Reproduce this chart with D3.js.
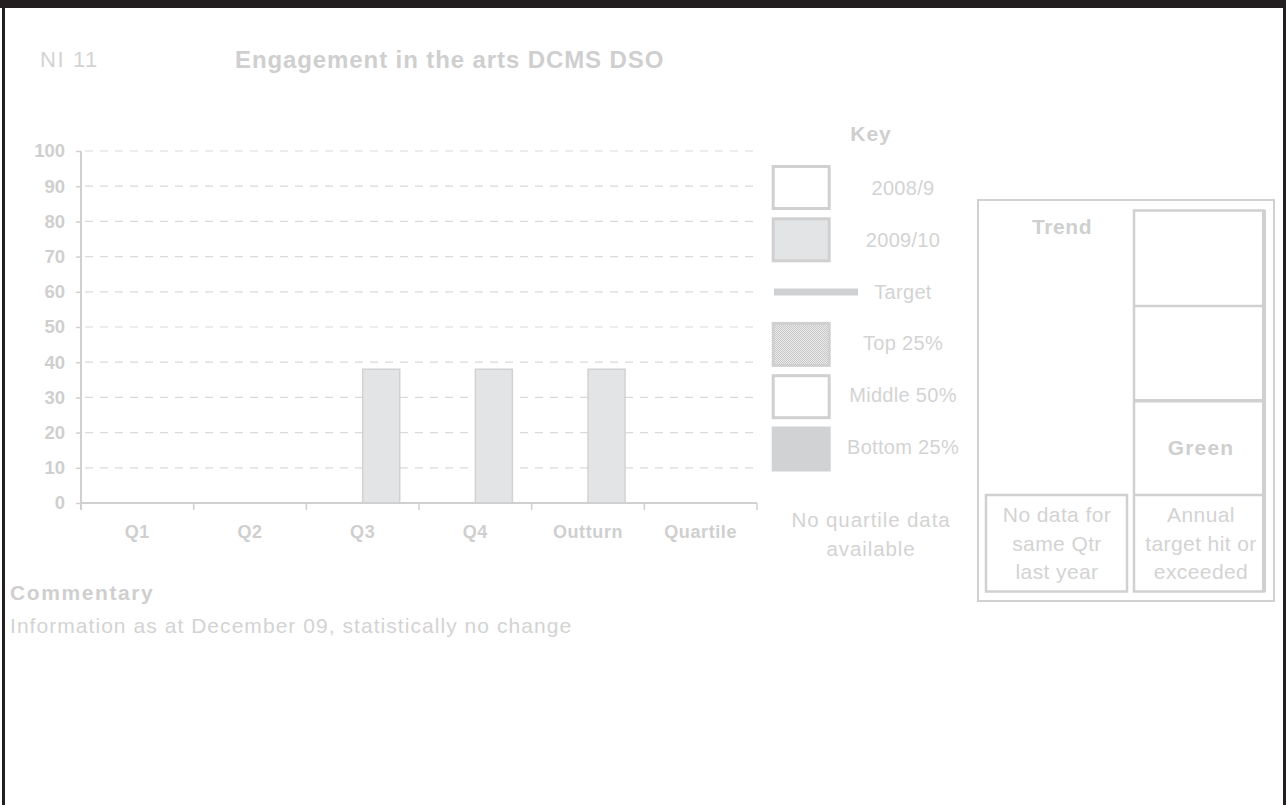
<!DOCTYPE html>
<html>
<head>
<meta charset="utf-8">
<script src="https://cdn.jsdelivr.net/npm/d3@7"></script>
<style>
  body { margin: 0; background: #fff; }
  svg text { font-family: "Liberation Sans", Arial, sans-serif; }
</style>
</head>
<body>
<div id="chart"></div>
<script>
// chart data
var categories = ["Q1", "Q2", "Q3", "Q4", "Outturn", "Quartile"];
var seriesNames = ["2008/9", "2009/10"];
var values0809 = [null, null, null, null, null, null];
var values0910 = [null, null, 38, 38, 38, null];
var yTicks = [0, 10, 20, 30, 40, 50, 60, 70, 80, 90, 100];
var keyLabels = ["2008/9", "2009/10", "Target", "Top 25%", "Middle 50%", "Bottom 25%"];
var keyTypes = ["box0809", "box0910", "line", "top", "mid", "bottom"];

var W = 1286, H = 805;
var txt = "#d3d3d3", txtBold = "#cfcfcf", line = "#d0d0d0";

var svg = d3.select("#chart").append("svg")
    .attr("width", W).attr("height", H);

// dotted pattern for the Top 25% key
var pat = svg.append("defs").append("pattern")
    .attr("id", "dots").attr("width", 2).attr("height", 2)
    .attr("patternUnits", "userSpaceOnUse");
pat.append("rect").attr("width", 2).attr("height", 2).attr("fill", "#ececec");
pat.append("rect").attr("width", 1).attr("height", 1).attr("fill", "#c6c6c6");
pat.append("rect").attr("x", 1).attr("y", 1).attr("width", 1).attr("height", 1).attr("fill", "#c6c6c6");

// black frame
svg.append("rect").attr("x", 0).attr("y", 0).attr("width", W).attr("height", 8).attr("fill", "#231f20");
svg.append("rect").attr("x", 2).attr("y", 0).attr("width", 3).attr("height", H).attr("fill", "#231f20");
svg.append("rect").attr("x", 1283).attr("y", 0).attr("width", 3).attr("height", H).attr("fill", "#231f20");

// headings
svg.append("text").text("NI 11")
    .attr("x", 40).attr("y", 67)
    .attr("font-size", 22).attr("letter-spacing", 1.6).attr("fill", txt);
svg.append("text").text("Engagement in the arts DCMS DSO")
    .attr("x", 235).attr("y", 68)
    .attr("font-size", 24).attr("font-weight", "bold").attr("letter-spacing", 0.9).attr("fill", txtBold);

// scales
var x = d3.scaleBand().domain(categories).range([81, 757]);
var x1 = d3.scaleBand().domain(seriesNames).range([0, x.bandwidth()]).paddingOuter(0.52);
var y = d3.scaleLinear().domain([0, 100]).range([503, 151]);

// grid lines (dashed)
svg.append("g").selectAll("line")
    .data(yTicks.filter(function(d) { return d > 0; }))
    .enter().append("line")
    .attr("x1", 81).attr("x2", 757)
    .attr("y1", function(d) { return y(d); })
    .attr("y2", function(d) { return y(d); })
    .attr("stroke", "#dadada").attr("stroke-width", 1.2)
    .attr("stroke-dasharray", "8,7").attr("stroke-dashoffset", -4);

// y axis
var yAxis = svg.append("g").attr("transform", "translate(81,0)")
    .call(d3.axisLeft(y).tickValues(yTicks).tickSize(5).tickPadding(11));
yAxis.select(".domain").remove();
yAxis.selectAll(".tick line").attr("stroke", line).attr("stroke-width", 1.5);
yAxis.selectAll(".tick text")
    .attr("fill", txtBold).attr("font-size", 18.5).attr("font-weight", "bold")
    .attr("font-family", "Liberation Sans, Arial, sans-serif");
svg.append("line").attr("x1", 81).attr("x2", 81).attr("y1", 151).attr("y2", 510)
    .attr("stroke", line).attr("stroke-width", 2);

// bars
var groups = svg.append("g").selectAll("g")
    .data(categories).enter().append("g")
    .attr("transform", function(d) { return "translate(" + x(d) + ",0)"; });
groups.each(function(c, i) {
    var g = d3.select(this);
    [values0809[i], values0910[i]].forEach(function(v, s) {
        if (v == null) return;
        g.append("rect")
            .attr("x", x1(seriesNames[s]))
            .attr("y", y(v))
            .attr("width", x1.bandwidth())
            .attr("height", y(0) - y(v))
            .attr("fill", s === 0 ? "#ffffff" : "#e3e4e6")
            .attr("stroke", "#d2d2d2").attr("stroke-width", 1.5);
    });
});

// x axis
svg.append("line").attr("x1", 81).attr("x2", 757).attr("y1", 503).attr("y2", 503)
    .attr("stroke", line).attr("stroke-width", 2);
svg.append("g").selectAll("line")
    .data(categories.slice(1).concat(["end"]))
    .enter().append("line")
    .attr("x1", function(d, i) { return x(categories[0]) + (i + 1) * x.step(); })
    .attr("x2", function(d, i) { return x(categories[0]) + (i + 1) * x.step(); })
    .attr("y1", 503).attr("y2", 510)
    .attr("stroke", line).attr("stroke-width", 1.5);
svg.append("g").selectAll("text")
    .data(categories).enter().append("text")
    .text(function(d) { return d; })
    .attr("x", function(d) { return x(d) + x.bandwidth() / 2; })
    .attr("y", 538)
    .attr("text-anchor", "middle")
    .attr("font-size", 18).attr("font-weight", "bold").attr("letter-spacing", 0.6)
    .attr("fill", txtBold);

// key
svg.append("text").text("Key")
    .attr("x", 871).attr("y", 141)
    .attr("text-anchor", "middle")
    .attr("font-size", 21).attr("font-weight", "bold").attr("letter-spacing", 1)
    .attr("fill", txtBold);
var keyY = function(i) { return 187.5 + i * 52.3; };
keyTypes.forEach(function(t, i) {
    var cy = keyY(i);
    if (t === "line") {
        svg.append("line").attr("x1", 774).attr("x2", 858)
            .attr("y1", cy).attr("y2", cy)
            .attr("stroke", "#d0d1d3").attr("stroke-width", 7);
    } else {
        var fill = { box0809: "#ffffff", box0910: "#e3e4e6", top: "url(#dots)", mid: "#ffffff", bottom: "#d1d2d4" }[t];
        svg.append("rect")
            .attr("x", 773.2).attr("y", cy - 21).attr("width", 56).attr("height", 42)
            .attr("fill", fill)
            .attr("stroke", t === "bottom" ? "#d1d2d4" : "#d0d0d0").attr("stroke-width", 3);
    }
});
svg.append("g").selectAll("text")
    .data(keyLabels).enter().append("text")
    .text(function(d) { return d; })
    .attr("x", 903).attr("y", function(d, i) { return 195 + i * 51.8; })
    .attr("text-anchor", "middle")
    .attr("font-size", 20).attr("letter-spacing", 0.3)
    .attr("fill", txt);
svg.append("text").attr("text-anchor", "middle").attr("font-size", 20.5)
    .attr("letter-spacing", 0.9).attr("fill", txt)
    .selectAll("tspan").data(["No quartile data", "available"]).enter().append("tspan")
    .attr("x", 871).attr("y", function(d, i) { return 527 + i * 29; })
    .text(function(d) { return d; });

// trend / status box
svg.append("rect").attr("x", 978).attr("y", 200).attr("width", 296).attr("height", 401)
    .attr("fill", "none").attr("stroke", line).attr("stroke-width", 2);
svg.append("rect").attr("x", 1134).attr("y", 210.5).attr("width", 130).attr("height", 381)
    .attr("fill", "none").attr("stroke", line).attr("stroke-width", 2.5);
svg.append("line").attr("x1", 1264).attr("x2", 1264).attr("y1", 210).attr("y2", 592)
    .attr("stroke", line).attr("stroke-width", 4);
[306, 400.7, 495].forEach(function(yy, i) {
    svg.append("line").attr("x1", 1134).attr("x2", 1264).attr("y1", yy).attr("y2", yy)
        .attr("stroke", line).attr("stroke-width", i === 1 ? 3.5 : 2.5);
});
svg.append("rect").attr("x", 986).attr("y", 495).attr("width", 141).attr("height", 96.5)
    .attr("fill", "none").attr("stroke", line).attr("stroke-width", 2.5);
svg.append("text").text("Trend")
    .attr("x", 1062).attr("y", 234).attr("text-anchor", "middle")
    .attr("font-size", 21).attr("font-weight", "bold").attr("letter-spacing", 0.6)
    .attr("fill", txtBold);
svg.append("text").text("Green")
    .attr("x", 1201).attr("y", 455).attr("text-anchor", "middle")
    .attr("font-size", 21).attr("font-weight", "bold").attr("letter-spacing", 1.2)
    .attr("fill", txtBold);
[[1057, ["No data for", "same Qtr", "last year"]],
 [1201, ["Annual", "target hit or", "exceeded"]]].forEach(function(b) {
    svg.append("text").attr("text-anchor", "middle").attr("font-size", 21)
        .attr("letter-spacing", 0.4).attr("fill", txt)
        .selectAll("tspan").data(b[1]).enter().append("tspan")
        .attr("x", b[0]).attr("y", function(d, i) { return 522 + i * 28.5; })
        .text(function(d) { return d; });
});

// commentary
svg.append("text").text("Commentary")
    .attr("x", 10).attr("y", 600)
    .attr("font-size", 21).attr("font-weight", "bold").attr("letter-spacing", 1.6)
    .attr("fill", txtBold);
svg.append("text").text("Information as at December 09, statistically no change")
    .attr("x", 10).attr("y", 633)
    .attr("font-size", 21).attr("letter-spacing", 1.05)
    .attr("fill", txt);
</script>
</body>
</html>
